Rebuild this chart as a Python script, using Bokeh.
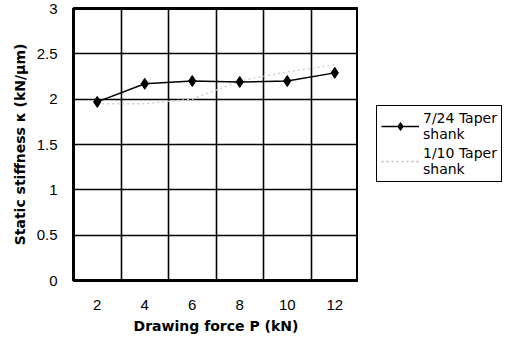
from bokeh.plotting import figure
from bokeh.models import FixedTicker, Legend, LegendItem, ColumnDataSource, Range1d
from bokeh.layouts import row
from bokeh.embed import file_html
from bokeh.resources import INLINE

# Data
categories = ["2", "4", "6", "8", "10", "12"]
taper_7_24 = [1.97, 2.17, 2.20, 2.19, 2.20, 2.29]
taper_1_10 = [1.95, 1.95, 2.00, 2.20, 2.30, 2.38]
y_ticks = [0, 0.5, 1, 1.5, 2, 2.5, 3]
y_tick_labels = ["0", "0.5", "1", "1.5", "2", "2.5", "3"]
series_names = ["7/24 Taper\nshank", "1/10 Taper\nshank"]

xpos = [i + 0.5 for i in range(len(categories))]
src = ColumnDataSource(dict(x=xpos, a=taper_7_24, b=taper_1_10))

FONT = "Liberation Sans"
TFONT = "DejaVu Sans"

p = figure(width=358, height=343, output_backend="svg", toolbar_location=None,
           x_range=(0, len(categories)), y_range=(0, 3),
           min_border_left=73, min_border_right=0, min_border_top=8,
           min_border_bottom=63)

p.background_fill_color = "white"
p.border_fill_color = "white"
p.outline_line_color = "black"
p.outline_line_width = 3
p.outline_line_alpha = 1

# axes
p.xaxis.ticker = FixedTicker(ticks=xpos)
p.xaxis.major_label_overrides = {x: c for x, c in zip(xpos, categories)}
p.yaxis.ticker = FixedTicker(ticks=y_ticks)
p.yaxis.major_label_overrides = {t: l for t, l in zip(y_ticks, y_tick_labels)}

for ax in (p.xaxis, p.yaxis):
    ax.axis_line_color = None
    ax.major_tick_line_color = None
    ax.minor_tick_line_color = None
    ax.major_label_text_font = FONT
    ax.major_label_text_font_size = "15px"
    ax.major_label_text_color = "black"
    ax.axis_label_text_font = TFONT
    ax.axis_label_text_font_size = "14px"
    ax.axis_label_text_font_style = "bold"
    ax.axis_label_text_color = "black"

p.xaxis.axis_label = "Drawing force P (kN)"
p.yaxis.axis_label = "Static stiffness κ (kN/μm)"
p.xaxis.major_label_standoff = 13
p.yaxis.major_label_standoff = 10
p.xaxis.axis_label_standoff = 5
p.yaxis.axis_label_standoff = 6

# grids
p.xgrid.ticker = FixedTicker(ticks=[1, 2, 3, 4, 5])
p.ygrid.ticker = FixedTicker(ticks=[0.5, 1, 1.5, 2, 2.5])
for g in (p.xgrid, p.ygrid):
    g.grid_line_color = "black"
    g.grid_line_width = 1.6
    g.grid_line_alpha = 1

# series
GRAY = "#d0d0d0"
p.line("x", "b", source=src, line_color=GRAY, line_width=1.5, line_dash="2 3")
p.line("x", "a", source=src, line_color="black", line_width=1.5)
p.scatter("x", "a", source=src, marker="diamond", size=11,
          fill_color="black", line_color="black")

# legend panel (separate figure; sample glyphs lie outside its visible range)
lf = figure(width=155, height=343, output_backend="svg", toolbar_location=None,
            x_range=Range1d(0, 1), y_range=Range1d(0, 1),
            min_border=0, outline_line_color=None)
lf.axis.visible = False
lf.grid.visible = False
sample = ColumnDataSource(dict(x=[5, 6], y=[5, 5]))
l1 = lf.line("x", "y", source=sample, line_color="black", line_width=1.5)
l1m = lf.scatter("x", "y", source=sample, marker="diamond", size=11,
                 fill_color="black", line_color="black")
l2 = lf.line("x", "y", source=sample, line_color="#b8b8b8", line_width=1.5,
             line_dash="2 3")

legend = Legend(items=[
    LegendItem(label=series_names[0], renderers=[l1, l1m]),
    LegendItem(label=series_names[1], renderers=[l2]),
], location=(18, 98))
legend.label_text_font = TFONT
legend.label_text_font_size = "14px"
legend.label_text_color = "black"
legend.label_text_line_height = 1.4
legend.border_line_color = "black"
legend.border_line_alpha = 1
legend.border_line_width = 1
legend.glyph_width = 38
legend.label_standoff = 4
legend.padding = 4
legend.spacing = 3
legend.margin = 0
lf.add_layout(legend)

open("out.html", "w").write(file_html(row(p, lf), INLINE))
